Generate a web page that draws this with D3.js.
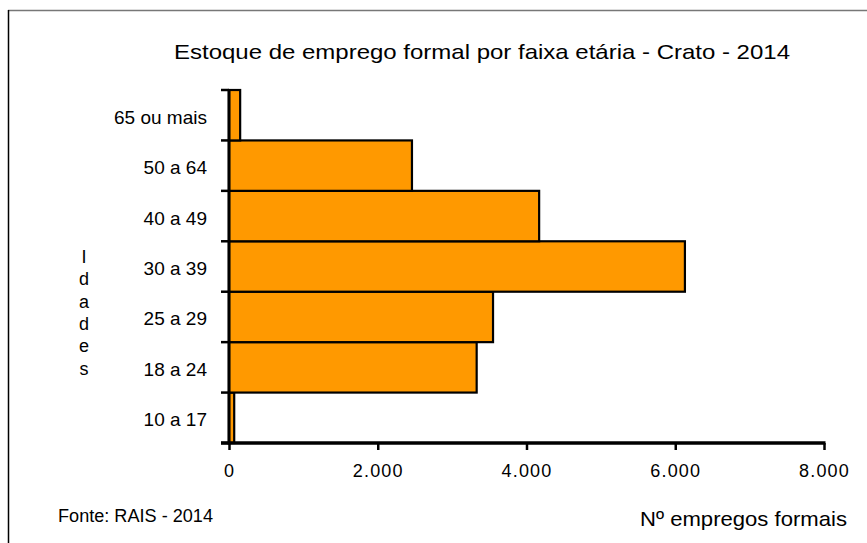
<!DOCTYPE html>
<html><head><meta charset="utf-8">
<script src="https://cdn.jsdelivr.net/npm/d3@7"></script>
<style>body{margin:0;background:#fff;}svg{display:block;font-family:"Liberation Sans",Arial,sans-serif;}</style>
</head><body>
<script>
const categories = ["10 a 17","18 a 24","25 a 29","30 a 39","40 a 49","50 a 64","65 ou mais"];
const values = [70, 3330, 3550, 6130, 4170, 2460, 150];
const xTicks = [0, 2000, 4000, 6000, 8000];
const title = "Estoque de emprego formal por faixa etária - Crato - 2014";

const W = 867, H = 543;
const svg = d3.select("body").append("svg").attr("width", W).attr("height", H);

svg.append("line").attr("x1",8).attr("y1",10.5).attr("x2",W).attr("y2",10.5).attr("stroke","#777").attr("stroke-width",1.5);
svg.append("line").attr("x1",8.5).attr("y1",10).attr("x2",8.5).attr("y2",H).attr("stroke","#000").attr("stroke-width",1.5);

const x = d3.scaleLinear().domain([0, 8000]).range([229, 824]);
const y = d3.scaleBand().domain(categories.slice().reverse()).range([90, 443]).padding(0);

const g = svg.append("g");
g.selectAll("rect.bar").data(categories).join("rect")
  .attr("class","bar")
  .attr("x", x(0))
  .attr("y", d => y(d))
  .attr("width", (d,i) => x(values[i]) - x(0))
  .attr("height", y.bandwidth())
  .attr("fill", "#ff9900")
  .attr("stroke", "#000")
  .attr("stroke-width", 2.2);

// y axis
const yAxis = d3.axisLeft(y).tickSize(0).tickPadding(22).tickFormat(d => d);
const ya = svg.append("g").attr("transform", `translate(${x(0)},0)`).call(yAxis);
ya.select(".domain").remove();
ya.selectAll("text").attr("font-size", 19).attr("dy", "0.45em").attr("fill","#000")
  .attr("font-family","Liberation Sans, Arial, sans-serif");
// boundary ticks
const bounds = categories.map(c => y(c)).concat([y.range()[1]]);
svg.selectAll("line.yt").data(bounds).join("line").attr("class","yt")
  .attr("x1", x(0)-8).attr("x2", x(0)).attr("y1", d=>d).attr("y2", d=>d)
  .attr("stroke","#000").attr("stroke-width",2.5);
svg.append("line").attr("x1", x(0)).attr("x2", x(0)).attr("y1", 89).attr("y2", 444.5)
  .attr("stroke","#000").attr("stroke-width",3);

// x axis
const xAxis = d3.axisBottom(x).tickValues(xTicks).tickSize(7).tickPadding(14)
  .tickFormat(d => d3.format(",")(d).replace(/,/g, "."));
const xa = svg.append("g").attr("transform", `translate(0,443)`).call(xAxis);
xa.select(".domain").remove();
xa.selectAll(".tick line").attr("stroke","#000").attr("stroke-width",2.5);
xa.selectAll("text").attr("font-size", 18).attr("fill","#000")
  .attr("font-family","Liberation Sans, Arial, sans-serif").attr("letter-spacing","1.2px");
svg.append("line").attr("x1", x(0)-8).attr("x2", x(8000)+1.5).attr("y1", 443).attr("y2", 443)
  .attr("stroke","#000").attr("stroke-width",3.5);

// title
svg.append("text").attr("x", 174).attr("y", 59).attr("font-size", 21).attr("textLength", 616)
  .attr("lengthAdjust","spacingAndGlyphs").text(title);

// y axis title: vertical letters
const yt = "Idades".split("");
svg.selectAll("text.ylab").data(yt).join("text").attr("class","ylab")
  .attr("x", 84).attr("y", (d,i) => 263 + i*22.3).attr("text-anchor","middle")
  .attr("font-size", 18).text(d => d);

svg.append("text").attr("x", 58).attr("y", 522).attr("font-size", 17.5)
  .attr("textLength", 155).attr("lengthAdjust","spacingAndGlyphs").text("Fonte: RAIS - 2014");
svg.append("text").attr("x", 640).attr("y", 526).attr("font-size", 21)
  .attr("textLength", 207).attr("lengthAdjust","spacingAndGlyphs").text("Nº empregos formais");
</script>
</body></html>
